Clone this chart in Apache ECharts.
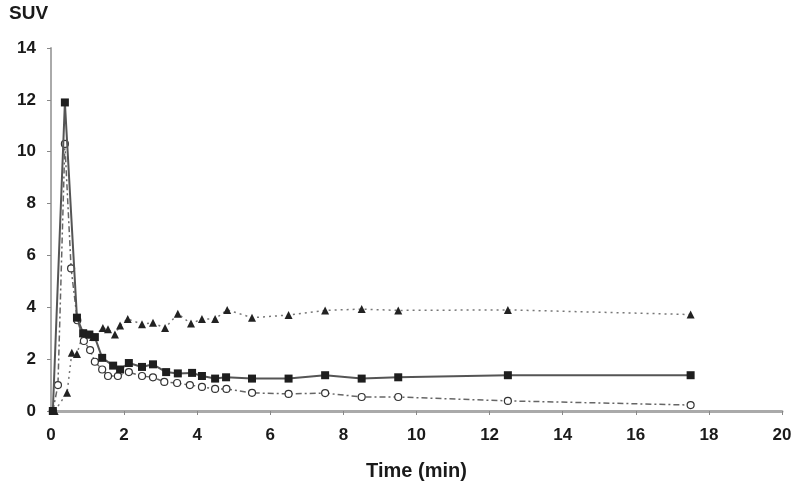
<!DOCTYPE html>
<html>
<head>
<meta charset="utf-8">
<script src="https://cdn.jsdelivr.net/npm/echarts@6/dist/echarts.min.js"></script>
<style>
  html, body { margin: 0; padding: 0; background: #fff; }
  #main { width: 800px; height: 496px; }
</style>
</head>
<body>
<div id="main"></div>
<script>
// time (min) and SUV for each curve
var squareTime = [0.05, 0.38, 0.71, 0.88, 1.05, 1.2, 1.4, 1.7, 1.89, 2.13, 2.49, 2.79, 3.15, 3.47, 3.86, 4.13, 4.49, 4.79, 5.5, 6.5, 7.5, 8.5, 9.5, 12.5, 17.5];
var squareSuv  = [0, 11.9, 3.6, 3.0, 2.95, 2.85, 2.05, 1.75, 1.6, 1.85, 1.7, 1.8, 1.5, 1.45, 1.47, 1.35, 1.25, 1.3, 1.25, 1.25, 1.38, 1.25, 1.3, 1.38, 1.38];

var circleTime = [0.05, 0.19, 0.38, 0.55, 0.72, 0.9, 1.07, 1.2, 1.4, 1.56, 1.83, 2.13, 2.49, 2.79, 3.1, 3.45, 3.8, 4.13, 4.49, 4.8, 5.5, 6.5, 7.5, 8.5, 9.5, 12.5, 17.5];
var circleSuv  = [0, 1.0, 10.3, 5.5, 3.5, 2.7, 2.35, 1.9, 1.6, 1.35, 1.35, 1.5, 1.35, 1.3, 1.12, 1.08, 1.0, 0.93, 0.85, 0.85, 0.7, 0.66, 0.69, 0.54, 0.54, 0.39, 0.23];

var triTime = [0.1, 0.44, 0.57, 0.71, 0.88, 1.0, 1.15, 1.42, 1.56, 1.75, 1.89, 2.1, 2.49, 2.79, 3.12, 3.47, 3.83, 4.13, 4.49, 4.82, 5.5, 6.5, 7.5, 8.5, 9.5, 12.5, 17.5];
var triSuv  = [0, 0.7, 2.25, 2.2, 3.0, 2.95, 2.85, 3.2, 3.15, 2.95, 3.3, 3.55, 3.35, 3.4, 3.2, 3.75, 3.37, 3.55, 3.55, 3.9, 3.6, 3.7, 3.88, 3.93, 3.88, 3.9, 3.72];

function pairs(xs, ys) {
  return xs.map(function (x, i) { return [x, ys[i]]; });
}

var chart = echarts.init(document.getElementById('main'));
var font = 'Liberation Sans, Arial, sans-serif';

var option = {
  backgroundColor: '#ffffff',
  animation: false,
  grid: { left: 51, right: 18, top: 48, bottom: 85 },
  graphic: [{
    type: 'text', left: 9, top: 4,
    style: { text: 'SUV', font: 'bold 19px ' + font, fill: '#1a1a1a' }
  }],
  xAxis: {
    type: 'value', min: 0, max: 20, interval: 2,
    name: 'Time (min)', nameLocation: 'middle', nameGap: 50,
    nameTextStyle: { fontFamily: font, fontSize: 20, fontWeight: 'bold', color: '#1a1a1a' },
    axisLine: { show: true, lineStyle: { color: '#aaaaaa', width: 3 } },
    axisTick: { show: true, length: 4, lineStyle: { color: '#888888', width: 1 } },
    axisLabel: { fontFamily: font, fontSize: 17, fontWeight: 'bold', color: '#1a1a1a', margin: 16 },
    splitLine: { show: false }
  },
  yAxis: {
    type: 'value', min: 0, max: 14, interval: 2,
    axisLine: { show: true, lineStyle: { color: '#aaaaaa', width: 2 } },
    axisTick: { show: true, length: 4, lineStyle: { color: '#888888', width: 1 } },
    axisLabel: { fontFamily: font, fontSize: 17, fontWeight: 'bold', color: '#1a1a1a', margin: 15 },
    splitLine: { show: false }
  },
  series: [{
    name: 'squares', type: 'line',
    data: pairs(squareTime, squareSuv),
    symbol: 'rect', symbolSize: 8,
    itemStyle: { color: '#1e1e1e' },
    lineStyle: { color: '#555555', width: 2, type: 'solid' },
    z: 4
  }, {
    name: 'circles', type: 'line',
    data: pairs(circleTime, circleSuv),
    symbol: 'circle', symbolSize: 7,
    itemStyle: { color: '#ffffff', borderColor: '#333333', borderWidth: 1.2 },
    lineStyle: { color: '#666666', width: 1.5, type: [6, 3, 2, 3] },
    z: 3
  }, {
    name: 'triangles', type: 'line',
    data: pairs(triTime, triSuv),
    symbol: 'triangle', symbolSize: 8,
    itemStyle: { color: '#222222' },
    lineStyle: { color: '#777777', width: 1.5, type: [2, 4] },
    z: 2
  }]
};

chart.setOption(option);
</script>
</body>
</html>
